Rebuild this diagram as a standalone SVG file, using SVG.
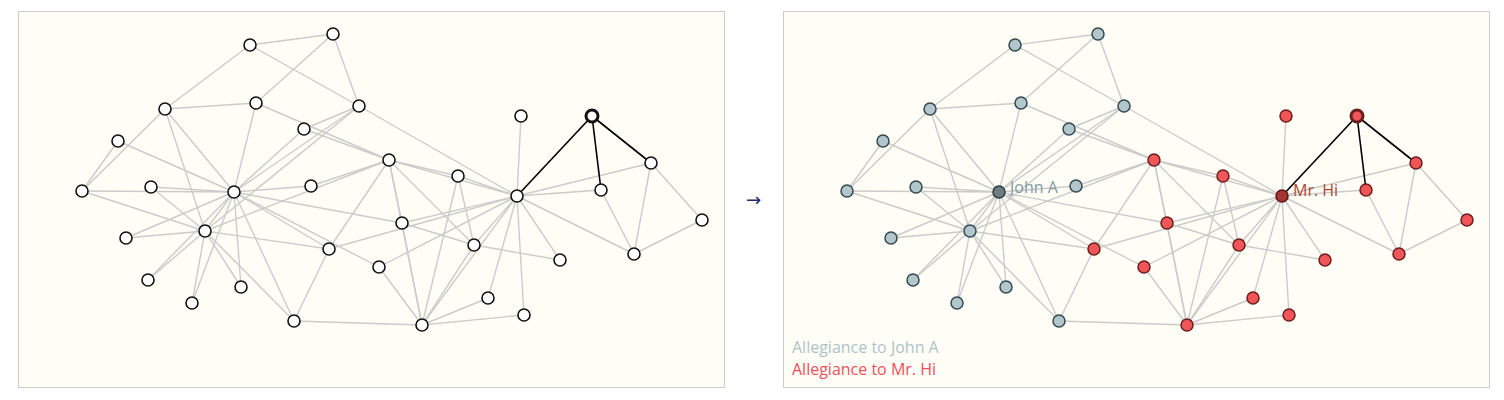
<svg xmlns="http://www.w3.org/2000/svg" xmlns:xlink="http://www.w3.org/1999/xlink" width="1504" height="400" viewBox="0 0 1504 400">
<style>
.panel{fill:#fefef7;stroke:#cccccc;stroke-width:1}
.e line{stroke:#cbcbcb;stroke-width:1.4}
.hl line{stroke:#000;stroke-width:1.6}
.n{fill:#fff;stroke:#111;stroke-width:1.6}
.n.sel{stroke-width:3}
.b{fill:#b2c7cb;stroke:#34494e;stroke-width:1.5}
.bh{fill:#6c7e81;stroke:#2e3c3f;stroke-width:1.5}
.r{fill:#f05558;stroke:#6b1d1d;stroke-width:1.5}
.rh{fill:#a83535;stroke:#5c1414;stroke-width:1.5}
.r.sel{stroke:#6b1d1d;stroke-width:3}
text{font-family:"Open Sans","Noto Sans","Liberation Sans",sans-serif;font-size:16px}
</style>
<rect class="panel" x="18.5" y="11.5" width="706" height="376"/>
<rect class="panel" x="783.5" y="11.5" width="706" height="376"/>
<text x="746" y="206" style="font-family:'DejaVu Sans',sans-serif;font-size:18px" fill="#1b2a6b">→</text>

<g id="left">
<g id="left-connectors" class="e">
<line x1="517" y1="196" x2="422" y2="325"/><line x1="517" y1="196" x2="389" y2="160"/><line x1="517" y1="196" x2="474" y2="245"/><line x1="517" y1="196" x2="634" y2="254"/><line x1="517" y1="196" x2="651" y2="163"/><line x1="517" y1="196" x2="458" y2="176"/><line x1="517" y1="196" x2="329" y2="249"/><line x1="517" y1="196" x2="601" y2="190"/><line x1="517" y1="196" x2="521" y2="116"/><line x1="517" y1="196" x2="560" y2="260"/><line x1="517" y1="196" x2="402" y2="223"/><line x1="517" y1="196" x2="488" y2="298"/><line x1="517" y1="196" x2="379" y2="267"/><line x1="517" y1="196" x2="524" y2="315"/><line x1="517" y1="196" x2="359" y2="106"/>
<line x1="422" y1="325" x2="389" y2="160"/><line x1="422" y1="325" x2="474" y2="245"/><line x1="422" y1="325" x2="458" y2="176"/><line x1="422" y1="325" x2="402" y2="223"/><line x1="422" y1="325" x2="488" y2="298"/><line x1="422" y1="325" x2="379" y2="267"/><line x1="422" y1="325" x2="524" y2="315"/><line x1="422" y1="325" x2="294" y2="321"/>
<line x1="389" y1="160" x2="474" y2="245"/><line x1="389" y1="160" x2="458" y2="176"/><line x1="389" y1="160" x2="329" y2="249"/><line x1="389" y1="160" x2="311" y2="186"/><line x1="389" y1="160" x2="402" y2="223"/><line x1="389" y1="160" x2="256" y2="103"/><line x1="389" y1="160" x2="304" y2="129"/><line x1="389" y1="160" x2="205" y2="231"/>
<line x1="474" y1="245" x2="458" y2="176"/><line x1="474" y1="245" x2="560" y2="260"/><line x1="474" y1="245" x2="402" y2="223"/>
<line x1="634" y1="254" x2="651" y2="163"/><line x1="634" y1="254" x2="601" y2="190"/><line x1="634" y1="254" x2="702" y2="220"/><line x1="651" y1="163" x2="702" y2="220"/>
<line x1="329" y1="249" x2="294" y2="321"/><line x1="329" y1="249" x2="205" y2="231"/><line x1="329" y1="249" x2="234" y2="192"/>
<line x1="311" y1="186" x2="234" y2="192"/><line x1="402" y1="223" x2="234" y2="192"/>
<line x1="151" y1="187" x2="205" y2="231"/><line x1="151" y1="187" x2="234" y2="192"/><line x1="126" y1="238" x2="205" y2="231"/><line x1="126" y1="238" x2="234" y2="192"/><line x1="148" y1="280" x2="205" y2="231"/><line x1="148" y1="280" x2="234" y2="192"/><line x1="379" y1="267" x2="234" y2="192"/><line x1="192" y1="303" x2="205" y2="231"/><line x1="192" y1="303" x2="234" y2="192"/><line x1="241" y1="287" x2="205" y2="231"/><line x1="241" y1="287" x2="234" y2="192"/>
<line x1="165" y1="109" x2="250" y2="45"/><line x1="165" y1="109" x2="256" y2="103"/><line x1="165" y1="109" x2="82" y2="191"/><line x1="165" y1="109" x2="205" y2="231"/><line x1="165" y1="109" x2="234" y2="192"/>
<line x1="333" y1="34" x2="250" y2="45"/><line x1="333" y1="34" x2="256" y2="103"/><line x1="333" y1="34" x2="359" y2="106"/><line x1="250" y1="45" x2="359" y2="106"/>
<line x1="118" y1="141" x2="82" y2="191"/><line x1="118" y1="141" x2="234" y2="192"/><line x1="256" y1="103" x2="234" y2="192"/><line x1="304" y1="129" x2="359" y2="106"/><line x1="304" y1="129" x2="234" y2="192"/>
<line x1="82" y1="191" x2="205" y2="231"/><line x1="82" y1="191" x2="234" y2="192"/><line x1="294" y1="321" x2="205" y2="231"/><line x1="294" y1="321" x2="234" y2="192"/><line x1="359" y1="106" x2="205" y2="231"/><line x1="359" y1="106" x2="234" y2="192"/><line x1="205" y1="231" x2="234" y2="192"/>
</g>
<g id="left-highlight" class="hl">
<line x1="592" y1="116" x2="517" y2="196"/><line x1="592" y1="116" x2="651" y2="163"/><line x1="592" y1="116" x2="601" y2="190"/>
</g>
<g id="left-nodes">
<g id="L1"><circle class="n" cx="517" cy="196" r="6"/></g>
<g id="L2"><circle class="n" cx="422" cy="325" r="6"/></g>
<g id="L3"><circle class="n" cx="389" cy="160" r="6"/></g>
<g id="L4"><circle class="n" cx="474" cy="245" r="6"/></g>
<g id="L5"><circle class="n sel" cx="592" cy="116" r="6"/></g>
<g id="L6"><circle class="n" cx="634" cy="254" r="6"/></g>
<g id="L7"><circle class="n" cx="651" cy="163" r="6"/></g>
<g id="L8"><circle class="n" cx="458" cy="176" r="6"/></g>
<g id="L9"><circle class="n" cx="329" cy="249" r="6"/></g>
<g id="L10"><circle class="n" cx="311" cy="186" r="6"/></g>
<g id="L11"><circle class="n" cx="601" cy="190" r="6"/></g>
<g id="L12"><circle class="n" cx="521" cy="116" r="6"/></g>
<g id="L13"><circle class="n" cx="560" cy="260" r="6"/></g>
<g id="L14"><circle class="n" cx="402" cy="223" r="6"/></g>
<g id="L15"><circle class="n" cx="151" cy="187" r="6"/></g>
<g id="L16"><circle class="n" cx="126" cy="238" r="6"/></g>
<g id="L17"><circle class="n" cx="702" cy="220" r="6"/></g>
<g id="L18"><circle class="n" cx="488" cy="298" r="6"/></g>
<g id="L19"><circle class="n" cx="148" cy="280" r="6"/></g>
<g id="L20"><circle class="n" cx="379" cy="267" r="6"/></g>
<g id="L21"><circle class="n" cx="192" cy="303" r="6"/></g>
<g id="L22"><circle class="n" cx="524" cy="315" r="6"/></g>
<g id="L23"><circle class="n" cx="241" cy="287" r="6"/></g>
<g id="L24"><circle class="n" cx="165" cy="109" r="6"/></g>
<g id="L25"><circle class="n" cx="333" cy="34" r="6"/></g>
<g id="L26"><circle class="n" cx="250" cy="45" r="6"/></g>
<g id="L27"><circle class="n" cx="118" cy="141" r="6"/></g>
<g id="L28"><circle class="n" cx="256" cy="103" r="6"/></g>
<g id="L29"><circle class="n" cx="304" cy="129" r="6"/></g>
<g id="L30"><circle class="n" cx="82" cy="191" r="6"/></g>
<g id="L31"><circle class="n" cx="294" cy="321" r="6"/></g>
<g id="L32"><circle class="n" cx="359" cy="106" r="6"/></g>
<g id="L33"><circle class="n" cx="205" cy="231" r="6"/></g>
<g id="L34"><circle class="n" cx="234" cy="192" r="6"/></g>
</g>
</g>

<g id="right" transform="translate(765,0)">
<use xlink:href="#left-connectors" href="#left-connectors"/>
<use xlink:href="#left-highlight" href="#left-highlight"/>
<g id="right-nodes">
<g id="R1"><circle class="rh" cx="517" cy="196" r="6"/><text x="528" y="196" fill="#ab4a30">Mr. Hi</text></g>
<g id="R2"><circle class="r" cx="422" cy="325" r="6"/></g>
<g id="R3"><circle class="r" cx="389" cy="160" r="6"/></g>
<g id="R4"><circle class="r" cx="474" cy="245" r="6"/></g>
<g id="R5"><circle class="r sel" cx="592" cy="116" r="6"/></g>
<g id="R6"><circle class="r" cx="634" cy="254" r="6"/></g>
<g id="R7"><circle class="r" cx="651" cy="163" r="6"/></g>
<g id="R8"><circle class="r" cx="458" cy="176" r="6"/></g>
<g id="R9"><circle class="r" cx="329" cy="249" r="6"/></g>
<g id="R10"><circle class="b" cx="311" cy="186" r="6"/></g>
<g id="R11"><circle class="r" cx="601" cy="190" r="6"/></g>
<g id="R12"><circle class="r" cx="521" cy="116" r="6"/></g>
<g id="R13"><circle class="r" cx="560" cy="260" r="6"/></g>
<g id="R14"><circle class="r" cx="402" cy="223" r="6"/></g>
<g id="R15"><circle class="b" cx="151" cy="187" r="6"/></g>
<g id="R16"><circle class="b" cx="126" cy="238" r="6"/></g>
<g id="R17"><circle class="r" cx="702" cy="220" r="6"/></g>
<g id="R18"><circle class="r" cx="488" cy="298" r="6"/></g>
<g id="R19"><circle class="b" cx="148" cy="280" r="6"/></g>
<g id="R20"><circle class="r" cx="379" cy="267" r="6"/></g>
<g id="R21"><circle class="b" cx="192" cy="303" r="6"/></g>
<g id="R22"><circle class="r" cx="524" cy="315" r="6"/></g>
<g id="R23"><circle class="b" cx="241" cy="287" r="6"/></g>
<g id="R24"><circle class="b" cx="165" cy="109" r="6"/></g>
<g id="R25"><circle class="b" cx="333" cy="34" r="6"/></g>
<g id="R26"><circle class="b" cx="250" cy="45" r="6"/></g>
<g id="R27"><circle class="b" cx="118" cy="141" r="6"/></g>
<g id="R28"><circle class="b" cx="256" cy="103" r="6"/></g>
<g id="R29"><circle class="b" cx="304" cy="129" r="6"/></g>
<g id="R30"><circle class="b" cx="82" cy="191" r="6"/></g>
<g id="R31"><circle class="b" cx="294" cy="321" r="6"/></g>
<g id="R32"><circle class="b" cx="359" cy="106" r="6"/></g>
<g id="R33"><circle class="b" cx="205" cy="231" r="6"/></g>
<g id="R34"><circle class="bh" cx="234" cy="192" r="6"/><text x="245" y="193" fill="#8399a5">John A</text></g>
</g>
</g>
<g id="legend">
<text x="792" y="353" fill="#adc3c8">Allegiance to John A</text>
<text x="792" y="375" fill="#f0505a">Allegiance to Mr. Hi</text>
</g>
</svg>
